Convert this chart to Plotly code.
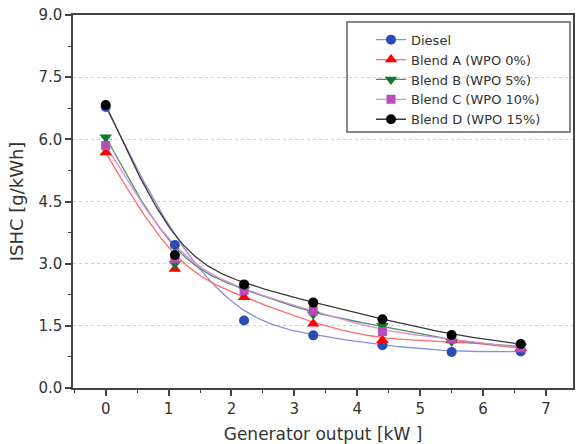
import numpy as np
import plotly.graph_objects as go

# ---- data ----
generator_output_kw = [0, 1.1, 2.2, 3.3, 4.4, 5.5, 6.6]
series_names = ["Diesel", "Blend A (WPO 0%)", "Blend B (WPO 5%)",
                "Blend C (WPO 10%)", "Blend D (WPO 15%)"]
ishc_diesel = [6.78, 3.45, 1.63, 1.27, 1.03, 0.87, 0.88]
ishc_blend_a = [5.68, 2.87, 2.19, 1.55, 1.15, 1.15, 0.96]
ishc_blend_b = [6.05, 3.00, 2.38, 1.78, 1.50, 1.12, 1.00]
ishc_blend_c = [5.85, 3.12, 2.35, 1.86, 1.36, 1.18, 0.97]
ishc_blend_d = [6.83, 3.21, 2.50, 2.06, 1.66, 1.28, 1.06]
y_tick_values = [0.0, 1.5, 3.0, 4.5, 6.0, 7.5, 9.0]
x_tick_values = [0, 1, 2, 3, 4, 5, 6, 7]

# ---- styles ----
marker_colors = ["#2b4bb5", "#ff0000", "#0f7a2d", "#b84cb8", "#000000"]
line_colors = ["#8a8fd6", "#ff6a6a", "#4f8a60", "#e08ae0", "#3a3a3a"]
symbols = ["circle", "triangle-up", "triangle-down", "square", "circle"]
sizes = [10, 11, 11, 9, 10]
FONT = "DejaVu Sans"
TXT = "#333333"


def bspline(xs, ys, n=40):
    """Uniform cubic B-spline using the data points as control points
    (endpoints clamped), like a B-spline connect line."""
    px = np.concatenate([[xs[0]] * 2, xs, [xs[-1]] * 2]).astype(float)
    py = np.concatenate([[ys[0]] * 2, ys, [ys[-1]] * 2]).astype(float)
    t = np.linspace(0, 1, n)
    b0 = (1 - t) ** 3 / 6
    b1 = (3 * t ** 3 - 6 * t ** 2 + 4) / 6
    b2 = (-3 * t ** 3 + 3 * t ** 2 + 3 * t + 1) / 6
    b3 = t ** 3 / 6
    cx, cy = [], []
    for i in range(len(px) - 3):
        cx.append(b0 * px[i] + b1 * px[i + 1] + b2 * px[i + 2] + b3 * px[i + 3])
        cy.append(b0 * py[i] + b1 * py[i + 1] + b2 * py[i + 2] + b3 * py[i + 3])
    return np.concatenate(cx), np.concatenate(cy)


all_series = [ishc_diesel, ishc_blend_a, ishc_blend_b, ishc_blend_c, ishc_blend_d]

fig = go.Figure()
for i, (name, vals) in enumerate(zip(series_names, all_series)):
    cx, cy = bspline(np.array(generator_output_kw), np.array(vals))
    fig.add_trace(go.Scatter(
        x=cx, y=cy, mode="lines+markers", name=name, legendgroup=name,
        line=dict(color=line_colors[i], width=1.3),
        marker=dict(symbol=symbols[i], size=sizes[i], color=marker_colors[i], line=dict(width=0)),
        selectedpoints=[], unselected=dict(marker=dict(opacity=0)),
        hoverinfo="skip", showlegend=True,
    ))
for i, (name, vals) in enumerate(zip(series_names, all_series)):
    fig.add_trace(go.Scatter(
        x=generator_output_kw, y=vals, mode="markers", name=name, legendgroup=name,
        marker=dict(symbol=symbols[i], size=sizes[i], color=marker_colors[i], line=dict(width=0)),
        showlegend=False,
    ))

# legend frame
fig.add_shape(type="rect", xref="x domain", yref="y domain",
              x0=0.548, x1=0.994, y0=0.686, y1=0.981,
              line=dict(color="#888888", width=2), fillcolor="white", layer="below")

axis_common = dict(
    showline=True, mirror=True, linecolor="#444444", linewidth=1.5,
    ticks="outside", tickcolor="#444444", tickwidth=1.5, ticklen=6,
    tickfont=dict(family=FONT, size=15, color=TXT),
    zeroline=False,
)
fig.update_xaxes(
    **axis_common, range=[-0.52, 7.43], tickvals=x_tick_values, showgrid=False,
    automargin=True,
    minor=dict(ticks="outside", dtick=0.5, tick0=0, ticklen=3, tickcolor="#444444", tickwidth=1.2),
    title=dict(text="Generator output [kW ]", font=dict(family=FONT, size=17, color=TXT), standoff=16),
)
fig.update_yaxes(
    **axis_common, range=[0, 9], tickvals=y_tick_values, tickformat=".1f",
    showgrid=True, gridcolor="#d0d0d0", griddash="dot", gridwidth=1,
    minor=dict(ticks="outside", dtick=0.75, tick0=0, ticklen=3, tickcolor="#444444", tickwidth=1.2),
    title=dict(text="ISHC [g/kWh]", font=dict(family=FONT, size=18, color=TXT), standoff=10),
)

fig.update_layout(
    width=584, height=444,
    margin=dict(l=73, r=11, t=15, b=56, autoexpand=False),
    paper_bgcolor="white", plot_bgcolor="white",
    font=dict(family=FONT, color=TXT),
    showlegend=True,
    legend=dict(x=0.596, y=0.974, xanchor="left", yanchor="top",
                bgcolor="rgba(0,0,0,0)", borderwidth=0,
                font=dict(family=FONT, size=13, color=TXT),
                tracegroupgap=0),
)

fig.write_html("out.html")
